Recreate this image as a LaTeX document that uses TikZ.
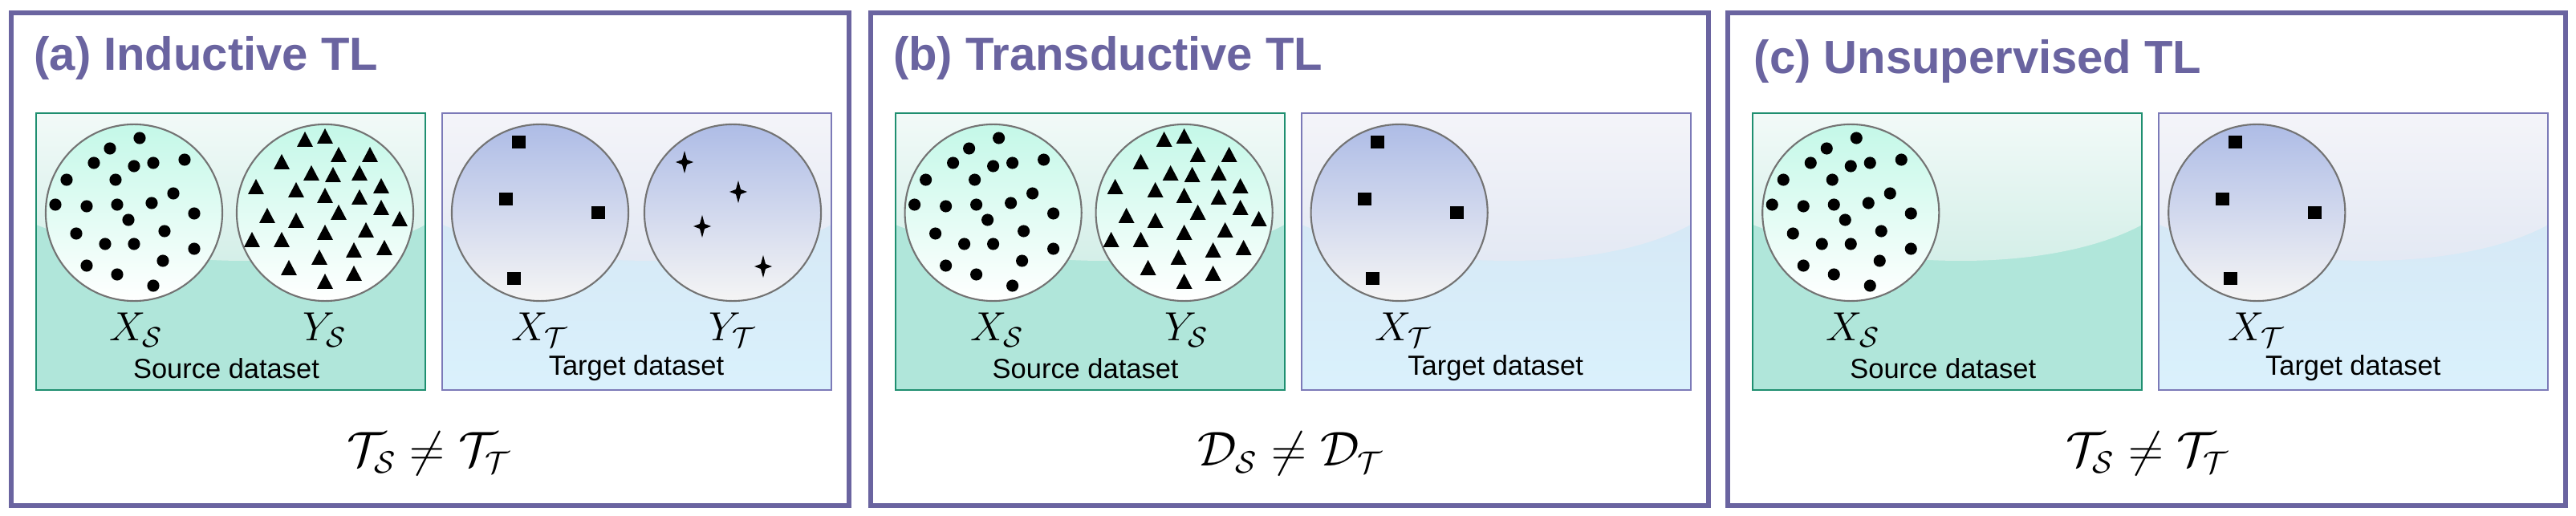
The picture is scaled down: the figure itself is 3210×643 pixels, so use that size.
\documentclass[tikz,border=0pt]{standalone}
\usepackage{fontspec}
\setmainfont{Liberation Sans}
\usetikzlibrary{calc}
\definecolor{frame}{HTML}{6A64A0}
\definecolor{srcborder}{HTML}{1F8F70}
\definecolor{tgtborder}{HTML}{7C7AB8}
\definecolor{srctop}{HTML}{F2FAF8}
\definecolor{srcmid}{HTML}{D2EEE7}
\definecolor{srclow}{HTML}{B0E6DA}
\definecolor{tgttop}{HTML}{F4F4F9}
\definecolor{tgtmid}{HTML}{E2E8F3}
\definecolor{tgtlow}{HTML}{D3E3F2}
\definecolor{tgtbot}{HTML}{DAF1FC}
\definecolor{ctop}{HTML}{C4F8E8}
\definecolor{ttop}{HTML}{AEBCE6}
\tikzset{
  panel/.style={draw=frame,line width=1.7pt},
  title/.style={anchor=base west,text=frame,font=\fontsize{16.5}{16.5}\selectfont\bfseries},
  lbl/.style={font=\fontsize{9.8}{10}\selectfont},
  mlbl/.style={font=\fontsize{14}{14}\selectfont},
  frm/.style={font=\fontsize{16}{16}\selectfont},
  scirc/.style={circle,minimum size=62.6pt,inner sep=0pt,draw=black!55,line width=0.6pt,top color=ctop,bottom color=white},
  tcirc/.style={circle,minimum size=62.6pt,inner sep=0pt,draw=black!55,line width=0.6pt,top color=ttop,bottom color=white!96!black},
}
\newcommand{\srcbox}{%
  \fill[srclow] (45,141) rectangle (530,486);
  \shade[top color=srctop,bottom color=srcmid] (45,141) -- (530,141) -- (530,280) .. controls (420,340) and (200,340) .. (45,280) -- cycle;
  \draw[srcborder,line width=0.6pt] (45,141) rectangle (530,486);
}
\newcommand{\tgtbox}{%
  \shade[top color=tgtlow,bottom color=tgtbot] (551,141) rectangle (1036,486);
  \shade[top color=tgttop,bottom color=tgtmid] (551,141) -- (1036,141) -- (1036,280) .. controls (926,340) and (706,340) .. (551,280) -- cycle;
  \draw[tgtborder,line width=0.6pt] (551,141) rectangle (1036,486);
}
\newcommand{\dotsin}[1]{%
  \foreach \dx/\dy in {7/-93,-30/-80,-50/-62,0/-58,24/-62,63/-66,-84/-41,-23/-41,-98/-10,-59/-8,-21/-10,22/-12,49/-24,75/1,-7/9,-72/26,-36/39,0/39,38/23,75/45,-59/66,-21/77,36/60,24/91}
    \fill ($(#1)+(\dx,\dy)$) circle (2.15pt);
}
\newcommand{\trisin}[1]{%
  \foreach \dx/\dy in {-25/-91,0/-95,17/-72,56/-72,-54/-63,-17/-49,10/-47,43/-49,-86/-32,-36/-28,0/-21,43/-19,70/-33,-72/4,-36/10,17/0,70/-6,93/8,-91/34,-54/34,0/25,51/22,-7/56,36/47,74/44,-45/69,0/86,36/76}
    \fill ($(#1)+(\dx,\dy)$) +(-10,9) -- +(10,9) -- +(0,-10) -- cycle;
}
\newcommand{\sqin}[1]{%
  \foreach \dx/\dy in {-27/-88,-43/-17,72/0,-33/82}
    \fill ($(#1)+(\dx,\dy)$) +(-8.5,-8) rectangle +(8.5,8);
}
\newcommand{\starsin}[1]{%
  \foreach \dx/\dy in {-60/-63,7/-26,-38/17,38/67}
    \fill ($(#1)+(\dx,\dy)$) +(0,-14) -- +(3,-3) -- +(11,0) -- +(3,3) -- +(0,14) -- +(-3,3) -- +(-11,0) -- +(-3,-3) -- cycle;
}
\begin{document}
\begin{tikzpicture}[x=0.01cm,y=-0.01cm]
\useasboundingbox (0,0) rectangle (3210,643);
\fill[white] (0,0) rectangle (3210,643);
% ---------- panel a
\begin{scope}
\draw[panel] (14,16) rectangle (1058,630);
\node[title] (ta) at (30,88) {(a) Inductive TL};
\srcbox \tgtbox
\node[scirc] (axs) at (167,265) {}; \dotsin{axs}
\node[scirc] (ays) at (405,265) {}; \trisin{ays}
\node[tcirc] (axt) at (673,265) {}; \sqin{axt}
\node[tcirc] (ayt) at (913,265) {}; \starsin{ayt}
\node[mlbl] (laxs) at (170,411) {$X_{\mathcal S}$};
\node[mlbl] (lays) at (405,411) {$Y_{\mathcal S}$};
\node[mlbl] (laxt) at (673,411) {$X_{\mathcal T}$};
\node[mlbl] (layt) at (913,411) {$Y_{\mathcal T}$};
\node[lbl] (sa) at (282,459) {Source dataset};
\node[lbl] (tga) at (793,459) {Target dataset};
\node[frm] (fa) at (535,565) {$\mathcal T_{\mathcal S}\neq\mathcal T_{\mathcal T}$};
\end{scope}
% ---------- panel b
\begin{scope}[xshift=10.7cm]
\draw[panel] (14,16) rectangle (1058,630);
\node[title] (tb) at (30,88) {(b) Transductive TL};
\srcbox \tgtbox
\node[scirc] (bxs) at (167,265) {}; \dotsin{bxs}
\node[scirc] (bys) at (405,265) {}; \trisin{bys}
\node[tcirc] (bxt) at (673,265) {}; \sqin{bxt}
\node[mlbl] (lbxs) at (172,411) {$X_{\mathcal S}$};
\node[mlbl] (lbys) at (408,411) {$Y_{\mathcal S}$};
\node[mlbl] (lbxt) at (678,411) {$X_{\mathcal T}$};
\node[lbl] (sb) at (282,459) {Source dataset};
\node[lbl] (tgb) at (793,459) {Target dataset};
\node[frm] (fb) at (538,565) {$\mathcal D_{\mathcal S}\neq\mathcal D_{\mathcal T}$};
\end{scope}
% ---------- panel c
\begin{scope}[xshift=21.38cm]
\draw[panel] (14,16) rectangle (1058,630);
\node[title] (tc) at (34,92) {(c) Unsupervised TL};
\srcbox \tgtbox
\node[scirc] (cxs) at (167,265) {}; \dotsin{cxs}
\node[tcirc] (cxt) at (673,265) {}; \sqin{cxt}
\node[mlbl] (lcxs) at (170,411) {$X_{\mathcal S}$};
\node[mlbl] (lcxt) at (673,411) {$X_{\mathcal T}$};
\node[lbl] (sc) at (282,459) {Source dataset};
\node[lbl] (tgc) at (793,459) {Target dataset};
\node[frm] (fc) at (537,565) {$\mathcal T_{\mathcal S}\neq\mathcal T_{\mathcal T}$};
\end{scope}
\end{tikzpicture}
\end{document}
